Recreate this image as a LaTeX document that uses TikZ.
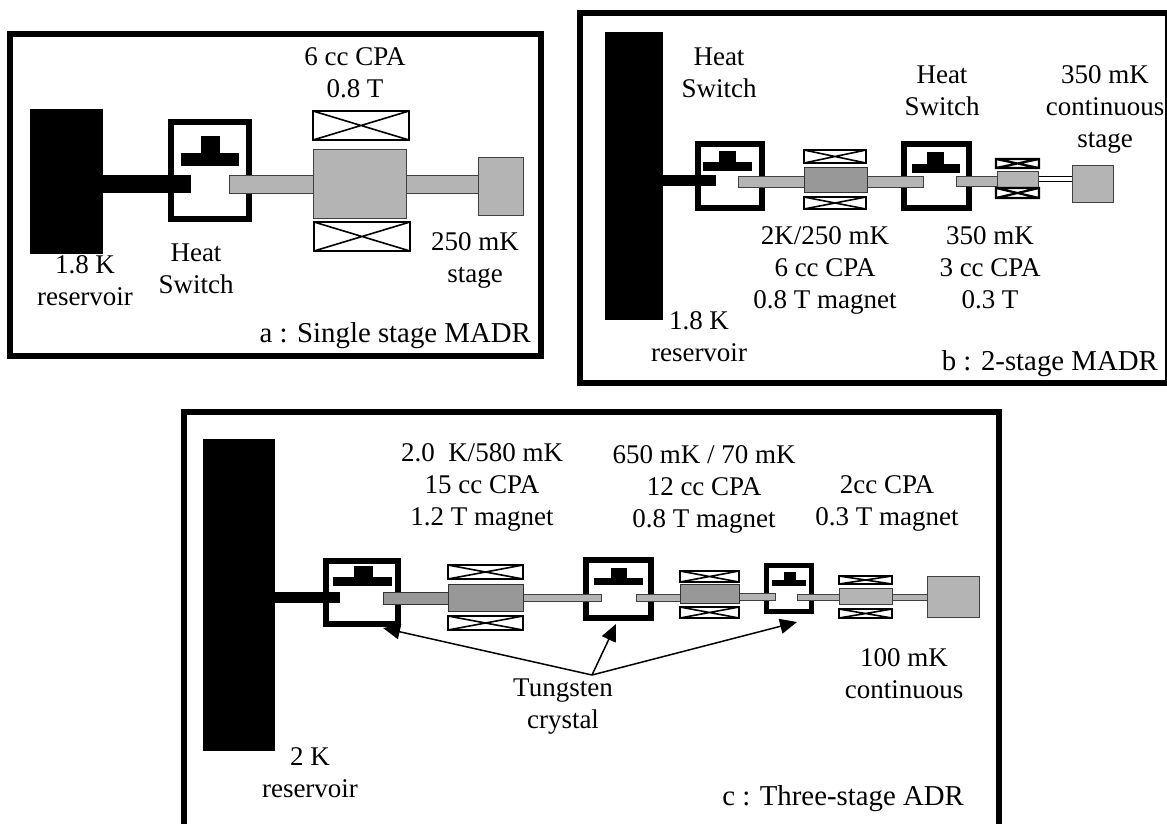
\documentclass[tikz,border=0pt]{standalone}
\usepackage{fontspec}
\setmainfont{Liberation Serif}
\usetikzlibrary{arrows.meta}
\definecolor{rodgray}{HTML}{B4B4B4}
\definecolor{darkgray}{HTML}{989898}
\tikzset{
  lab/.style={font=\fontsize{27}{32}\selectfont,inner sep=0pt,align=center,anchor=base},
  captext/.style={font=\fontsize{28.8}{32}\selectfont,inner sep=0pt,anchor=base east},
  panel/.style={draw=black,line width=6pt},
  swframe/.style={draw=black,line width=6pt,fill=white},
  solidblack/.style={fill=black},
  gpart/.style={fill=rodgray,draw=black!75,line width=1pt},
  dpart/.style={fill=darkgray,draw=black!80,line width=1pt},
  coil/.style={draw=black,line width=1.6pt,fill=white},
  pointer/.style={draw=black,line width=1.5pt,-{Triangle[length=17pt,width=15pt]}}
}
\newcommand{\coilbox}[5][coil]{\draw[#1] (#2,#3) rectangle (#4,#5) (#2,#3) -- (#4,#5) (#2,#5) -- (#4,#3);}
\begin{document}
\begin{tikzpicture}[x=1pt,y=-1pt]
\useasboundingbox (0,0) rectangle (1167,823);
% ---------- panel a
\draw[panel] (10,34) rectangle (541,356);
\draw[swframe] (171,122) rectangle (249,219);
\fill[solidblack] (30,109) rectangle (103,254);
\fill[solidblack] (103,175) rectangle (191,193);
\fill[solidblack] (201,136) rectangle (220,153);
\fill[solidblack] (181,153) rectangle (239,166);
\draw[gpart] (229,175) rectangle (478,193);
\draw[gpart] (313,149) rectangle (406,218);
\draw[gpart] (478,157) rectangle (523,215);
\coilbox{313}{111}{409}{140}
\coilbox{314}{222}{410}{251}
\node[lab] (a1) at (355,97) {6 cc CPA\\0.8 T};
\node[lab] (a2) at (85,305) {1.8 K\\reservoir};
\node[lab] (a3) at (196,293) {Heat\\Switch};
\node[lab] (a4) at (475,282) {250 mK\\stage};
\node[captext] (a5) at (531,342) {a : Single stage MADR};
% ---------- panel b
\draw[panel] (580,13) rectangle (1168,382.5);
\fill[solidblack] (605,32) rectangle (663,320);
\draw[swframe] (698,144) rectangle (762,208);
\draw[swframe] (904,144) rectangle (969,208);
\fill[solidblack] (663,175) rectangle (716,186);
\fill[solidblack] (719,151) rectangle (736,162);
\fill[solidblack] (703,162) rectangle (752,171);
\fill[solidblack] (927,152) rectangle (944,164);
\fill[solidblack] (912,164) rectangle (960,173);
\draw[gpart] (738,176) rectangle (923,187);
\draw[dpart] (804,167) rectangle (867,192);
\coilbox{804}{150}{866}{163}
\coilbox{804}{197}{866}{209}
\draw[gpart] (956,176) rectangle (997,186);
\draw[draw=black,line width=1pt,fill=white] (1038,176) rectangle (1072,181);
\draw[gpart] (997,171) rectangle (1038,187);
\coilbox[coil,line width=2.2pt]{996}{159}{1039}{168}
\coilbox[coil,line width=2.2pt]{996}{188}{1039}{198}
\draw[gpart] (1072,165) rectangle (1113,202);
\node[lab] (b1) at (719,97) {Heat\\Switch};
\node[lab] (b2) at (942,115) {Heat\\Switch};
\node[lab] (b3) at (1105,147) {350 mK\\continuous\\stage};
\node[lab] (b4) at (825,308) {2K/250 mK\\6 cc CPA\\0.8 T magnet};
\node[lab] (b5) at (990,308) {350 mK\\3 cc CPA\\0.3 T};
\node[lab] (b6) at (699,361) {1.8 K\\reservoir};
\node[captext] (b7) at (1158,370) {b : 2-stage MADR};
% ---------- panel c
\draw[panel] (184,830) -- (184,411.5) -- (999,411.5) -- (999,830);
\fill[solidblack] (203,439) rectangle (275,751);
\draw[swframe] (326,561) rectangle (398,624);
\draw[swframe] (586,560) rectangle (651,618);
\draw[swframe,line width=5pt] (766.5,565.5) rectangle (811.5,611.5);
\fill[solidblack] (275,592) rectangle (340,603);
\fill[solidblack] (354,566) rectangle (373,577);
\fill[solidblack] (333,577) rectangle (392,586);
\fill[solidblack] (611,568) rectangle (627,578);
\fill[solidblack] (594,578) rectangle (643,585);
\fill[solidblack] (784,572) rectangle (796,580);
\fill[solidblack] (772,580) rectangle (806,586);
\draw[dpart] (383,592) rectangle (448,604);
\draw[gpart] (523,594) rectangle (601,601);
\draw[gpart] (636,594) rectangle (680,601);
\draw[gpart] (739,593) rectangle (775,600);
\draw[gpart] (797,594) rectangle (839,600);
\draw[gpart] (892,594) rectangle (927,600);
\draw[dpart] (448,584) rectangle (523,611);
\coilbox{448}{565}{523}{579}
\coilbox{448}{616}{523}{630}
\draw[dpart] (680,584) rectangle (739,603);
\coilbox{680}{571}{739}{582}
\coilbox{680}{607}{739}{618}
\draw[gpart] (839,588) rectangle (892,604);
\coilbox{839}{576}{892}{584}
\coilbox{839}{609}{892}{618}
\draw[gpart] (927,576) rectangle (979,617);
\node[lab] (c1) at (482,525) {2.0~ K/580 mK\\15 cc CPA\\1.2 T magnet};
\node[lab] (c2) at (704,527) {650 mK / 70 mK\\12 cc CPA\\0.8 T magnet};
\node[lab] (c3) at (887,525) {2cc CPA\\0.3 T magnet};
\node[lab] (c4) at (904,698) {100 mK\\continuous};
\node[lab] (c5) at (563,728) {Tungsten\\crystal};
\node[lab] (c6) at (310,797) {2 K\\reservoir};
\node[captext] (c7) at (964,805) {c : Three-stage ADR};
\coordinate (hub) at (592,675);
\coordinate (t1) at (383,628);
\coordinate (t2) at (616,624);
\coordinate (t3) at (797,622);
\draw[pointer] (hub) -- (t1);
\draw[pointer] (hub) -- (t2);
\draw[pointer] (hub) -- (t3);
\end{tikzpicture}
\end{document}
